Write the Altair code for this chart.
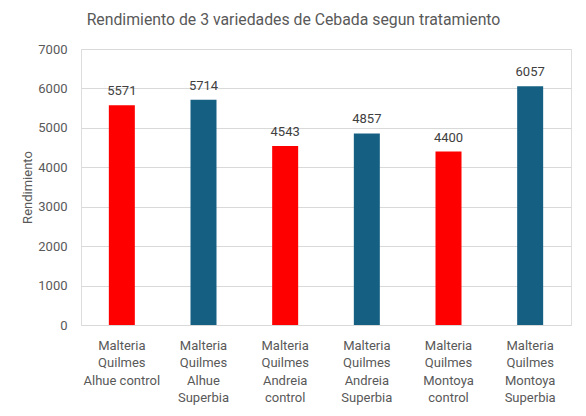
import altair as alt
import pandas as pd

categorias = [
    "Malteria|Quilmes|Alhue control",
    "Malteria|Quilmes|Alhue|Superbia",
    "Malteria|Quilmes|Andreia|control",
    "Malteria|Quilmes|Andreia|Superbia",
    "Malteria|Quilmes|Montoya|control",
    "Malteria|Quilmes|Montoya|Superbia",
]
rendimiento = [5571, 5714, 4543, 4857, 4400, 6057]
tratamiento = ["control", "Superbia", "control", "Superbia", "control", "Superbia"]
ticks_y = [0, 1000, 2000, 3000, 4000, 5000, 6000, 7000]

df = pd.DataFrame({"cat": categorias, "rend": rendimiento, "trat": tratamiento})

FONT = "Roboto"
TXT = "#595959"

x = alt.X(
    "cat:N",
    sort=categorias,
    title=None,
    scale=alt.Scale(paddingInner=0, paddingOuter=0),
    axis=alt.Axis(
        labelExpr="split(datum.label, '|')",
        labelAngle=0,
        labelFont=FONT,
        labelFontSize=13,
        labelColor=TXT,
        labelLineHeight=17.6,
        labelPadding=14,
        labelOverlap=False,
        ticks=False,
        domainColor="#D9D9D9",
        domainWidth=1,
        grid=False,
    ),
)

y = alt.Y(
    "rend:Q",
    title="Rendimiento",
    scale=alt.Scale(domain=[0, 7000], nice=False),
    axis=alt.Axis(
        values=ticks_y,
        tickCount=8,
        format="d",
        labelFont=FONT,
        labelFontSize=13,
        labelColor=TXT,
        labelPadding=14,
        labelOverlap=False,
        labelBound=False,
        labelFlush=False,
        ticks=False,
        domain=False,
        gridColor="#D9D9D9",
        gridWidth=1,
        titleFont=FONT,
        titleFontSize=13,
        titleFontWeight="normal",
        titleColor=TXT,
        titleX=-54,
        titleY=138,
        titleAngle=-90,
        titleAlign="center",
        titleBaseline="middle",
    ),
)

bars = alt.Chart(df).mark_bar(size=26).encode(
    x=x,
    y=y,
    color=alt.Color(
        "trat:N",
        scale=alt.Scale(domain=["control", "Superbia"], range=["#FF0000", "#156082"]),
        legend=None,
    ),
)

labels = alt.Chart(df).mark_text(
    font=FONT, fontSize=13, color="#404040", baseline="alphabetic", dy=-10
).encode(
    x=x,
    y=y,
    text=alt.Text("rend:Q", format="d"),
)

chart = (
    alt.layer(bars, labels)
    .properties(
        width=490,
        height=276,
        autosize=alt.AutoSizeParams(type="none"),
        padding={"left": 73, "top": 41, "right": 2, "bottom": 88},
        title=alt.TitleParams(
            "Rendimiento de 3 variedades de Cebada segun tratamiento",
            font=FONT,
            fontSize=15.8,
            fontWeight="normal",
            color=TXT,
            anchor="middle",
            frame="group",
            dx=-32.5,
            baseline="alphabetic",
            offset=2,
        ),
    )
    .configure_view(stroke=None)
    .configure(background="white")
)

chart.save("out.html", embed_options={"renderer": "svg", "actions": False})
